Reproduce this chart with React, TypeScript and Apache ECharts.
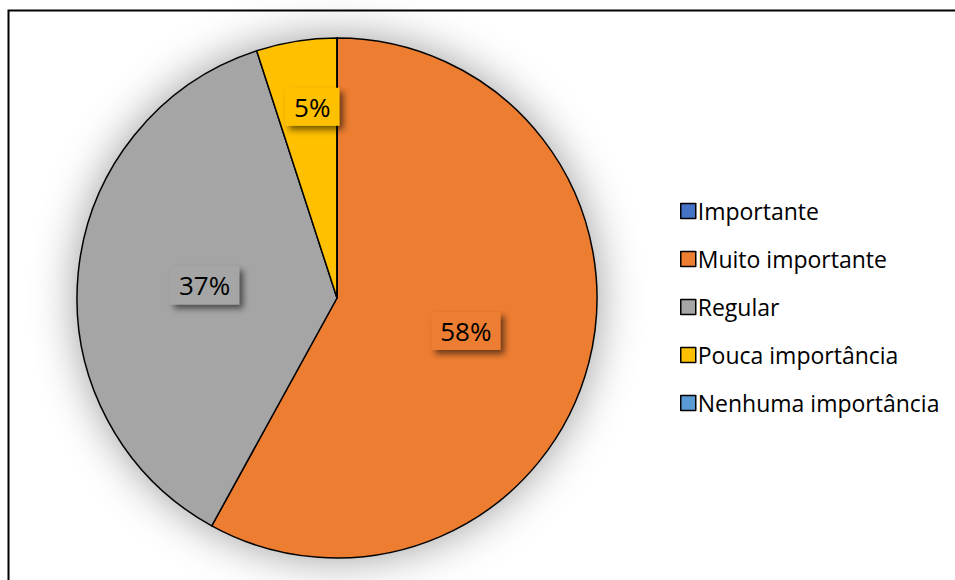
import React, { useEffect, useRef } from "react";
import * as echarts from "echarts";

const categories = ["Importante", "Muito importante", "Regular", "Pouca importância", "Nenhuma importância"];
const values = [0, 58, 37, 5, 0];
const colors = ["#4472C4", "#ED7D31", "#A5A5A5", "#FFC000", "#5B9BD5"];

const FONT = "'Open Sans', 'Noto Sans', sans-serif";

export default function App() {
  const ref = useRef<HTMLDivElement>(null);
  useEffect(() => {
    if (!ref.current) return;
    const chart = echarts.init(ref.current, undefined, { renderer: "svg" });
    const total = values.reduce((a, b) => a + b, 0);
    chart.setOption({
      animation: false,
      backgroundColor: "#ffffff",
      graphic: [
        {
          type: "rect",
          shape: { x: 8.5, y: 10.5, width: 1200, height: 1200 },
          style: { fill: "none", stroke: "#000", lineWidth: 2 },
          silent: true,
          z: 100,
        },
      ],
      legend: {
        data: categories,
        orient: "vertical",
        left: 675,
        top: 194,
        itemWidth: 15,
        itemHeight: 15,
        itemGap: 24,
        textStyle: { fontFamily: FONT, fontSize: 23, lineHeight: 24, color: "#000", padding: [0, 0, 0, -3] },
        icon: "rect",
        itemStyle: { borderColor: "#000", borderWidth: 1.5 },
      },
      series: [
        {
          type: "pie",
          name: "bg",
          silent: true,
          center: [337, 298],
          radius: 260,
          z: 0,
          data: [{ value: 1, name: "__bg" }],
          label: { show: false },
          labelLine: { show: false },
          itemStyle: {
            color: "#fff",
            shadowBlur: 45,
            shadowColor: "rgba(0,0,0,0.4)",
          },
        },
        {
          type: "pie",
          name: "main",
          center: [337, 298],
          radius: 260,
          startAngle: 90,
          clockwise: true,
          z: 2,
          itemStyle: { borderColor: "#000", borderWidth: 1.5 },
          data: categories.map((name, i) => ({
            name,
            value: values[i],
            itemStyle: { color: colors[i] },
            label: {
              show: values[i] > 0,
              backgroundColor: colors[i],
            },
          })),
          label: {
            position: "inside",
            formatter: (p: any) => (p.value > 0 ? Math.round((p.value / total) * 100) + "%" : ""),
            fontFamily: FONT,
            fontSize: 26,
            color: "#000",
            padding: [6, 9, 6, 9],
            shadowColor: "rgba(0,0,0,0.55)",
            shadowBlur: 6,
            shadowOffsetX: 4,
            shadowOffsetY: 4,
          },
          labelLayout: (p: any) => (p.dataIndex === 3 ? { dx: -4, dy: -60 } : {}),
          labelLine: { show: false },
          emphasis: { disabled: true },
        },
      ],
    });
    return () => chart.dispose();
  }, []);
  return (
    <div
      ref={ref}
      style={{ position: "fixed", left: 0, top: 0, width: 955, height: 580 }}
    />
  );
}
